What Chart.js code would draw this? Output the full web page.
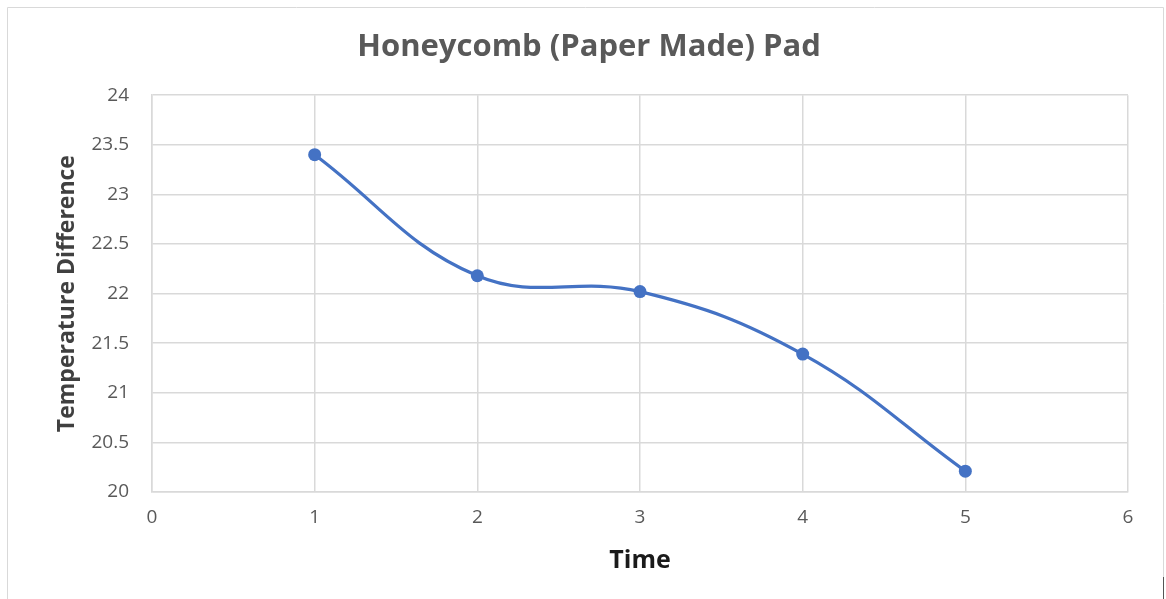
<!DOCTYPE html>
<html lang="en">
<head>
    <meta charset="UTF-8">
    <title>Honeycomb (Paper Made) Pad</title>
    <script src="https://cdn.jsdelivr.net/npm/chart.js"></script>
    <style>
        html, body { margin: 0; padding: 0; background: #ffffff; }
        .chart-box { position: relative; width: 1166px; height: 599px; }
    </style>
</head>
<body>
<div class="chart-box"><canvas id="tempChart"></canvas></div>

<script>
    // data
    const timePoints = [1, 2, 3, 4, 5];
    const tempDiff = [23.4, 22.18, 22.02, 21.39, 20.21];
    const xTicks = [0, 1, 2, 3, 4, 5, 6];
    const yTicks = [20, 20.5, 21, 21.5, 22, 22.5, 23, 23.5, 24];

    const gridColor = '#d9d9d9';
    const textGray = '#595959';

    // outer frame like the spreadsheet chart box
    const frame = {
        id: 'frame',
        beforeDraw(chart) {
            const c = chart.ctx;
            c.save();
            c.strokeStyle = '#d9d9d9';
            c.lineWidth = 1;
            c.beginPath();
            c.moveTo(7.5, 605);
            c.lineTo(7.5, 7.5);
            c.lineTo(1163.5, 7.5);
            c.lineTo(1163.5, 605);
            c.stroke();
            c.strokeStyle = '#555555';
            c.beginPath();
            c.moveTo(1163.5, 577);
            c.lineTo(1163.5, 599);
            c.stroke();
            c.restore();
        }
    };

    new Chart(document.getElementById('tempChart').getContext('2d'), {
        type: 'scatter',
        data: {
            datasets: [{
                data: timePoints.map((t, i) => ({ x: t, y: tempDiff[i] })),
                showLine: true,
                borderColor: '#4472c4',
                backgroundColor: '#4472c4',
                borderWidth: 3.25,
                pointRadius: 6.5,
                pointBorderWidth: 0,
                tension: 0.4
            }]
        },
        options: {
            responsive: true,
            maintainAspectRatio: false,
            animation: false,
            layout: { padding: { left: 50, right: 38, top: 0, bottom: 20 } },
            plugins: {
                legend: { display: false },
                tooltip: { enabled: false },
                title: {
                    display: true,
                    text: 'Honeycomb (Paper Made) Pad',
                    color: textGray,
                    font: { family: 'Open Sans', size: 31, weight: 'bold', lineHeight: 1.2 },
                    padding: { top: 29, bottom: 29 }
                }
            },
            scales: {
                x: {
                    type: 'linear',
                    min: 0,
                    max: 6,
                    afterBuildTicks: s => { s.ticks = xTicks.map(v => ({ value: v })); },
                    grid: { color: gridColor, lineWidth: 1.5, drawTicks: false },
                    border: { color: gridColor, width: 1.5 },
                    ticks: { color: textGray, font: { family: 'Open Sans', size: 19 }, padding: 14,
                             callback: v => String(v) },
                    title: {
                        display: true,
                        text: 'Time',
                        color: '#1a1a1a',
                        font: { family: 'Open Sans', size: 25, weight: 'bold', lineHeight: 1.2 },
                        padding: { top: 4, bottom: 3 }
                    },
                    afterFit: s => { s.height = 87; }
                },
                y: {
                    min: 20,
                    max: 24,
                    afterBuildTicks: s => { s.ticks = yTicks.map(v => ({ value: v })); },
                    grid: { color: gridColor, lineWidth: 1.5, drawTicks: false },
                    border: { color: gridColor, width: 1.5 },
                    ticks: { color: textGray, font: { family: 'Open Sans', size: 19 }, padding: 23,
                             callback: v => String(v) },
                    title: {
                        display: true,
                        text: 'Temperature Difference',
                        color: '#404040',
                        font: { family: 'Open Sans', size: 23, weight: 'bold', lineHeight: 1.2 },
                        padding: { top: 4, bottom: 2 }
                    },
                    afterFit: s => { s.width = 102; }
                }
            }
        },
        plugins: [frame]
    });
</script>
</body>
</html>
